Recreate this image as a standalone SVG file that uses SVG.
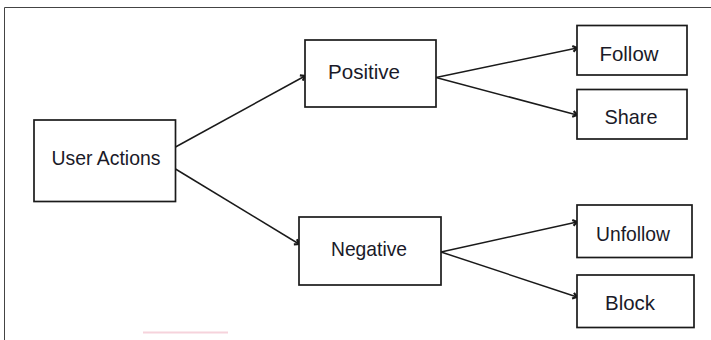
<svg xmlns="http://www.w3.org/2000/svg" width="711" height="340" viewBox="0 0 711 340">
<style>
.box{fill:#fff;stroke:#1a1a1a;stroke-width:1.7}
.lbl{font-family:"Liberation Sans",Arial,sans-serif;font-size:21px;fill:#1a1a28;text-anchor:middle}
.edge{stroke:#1a1a1a;stroke-width:1.5;fill:none;marker-end:url(#arr)}
</style>
<defs>
<marker id="arr" viewBox="0 0 10 10" refX="9" refY="5" markerWidth="6" markerHeight="6" markerUnits="userSpaceOnUse" orient="auto" overflow="visible">
<path d="M2,0 L9,5 L2,10" fill="none" stroke="#1a1a1a" stroke-width="3.6"/>
</marker>
</defs>
<rect width="711" height="340" fill="#fff"/>
<path d="M4.5,340 L4.5,7.5 L711,7.5" fill="none" stroke="#444" stroke-width="1"/>
<line x1="143" y1="332.5" x2="228" y2="332.5" stroke="#f6d3dc" stroke-width="2"/>
<g id="connectors">
<line class="edge" x1="175.5" y1="147" x2="305" y2="76"/>
<line class="edge" x1="175.5" y1="169" x2="299" y2="244"/>
<line class="edge" x1="436" y1="77.5" x2="577" y2="48"/>
<line class="edge" x1="436" y1="77.5" x2="577" y2="115"/>
<line class="edge" x1="441" y1="252" x2="577" y2="222"/>
<line class="edge" x1="441" y1="252" x2="577" y2="297"/>
</g>
<g id="user-actions"><rect class="box" x="34" y="120" width="141.5" height="81.5"/><text class="lbl" x="106" y="165" textLength="109" lengthAdjust="spacingAndGlyphs">User Actions</text></g>
<g id="positive"><rect class="box" x="305" y="40" width="131" height="67"/><text class="lbl" x="364" y="79" textLength="72" lengthAdjust="spacingAndGlyphs">Positive</text></g>
<g id="negative"><rect class="box" x="299" y="217" width="142" height="68"/><text class="lbl" x="369" y="256" textLength="76" lengthAdjust="spacingAndGlyphs">Negative</text></g>
<g id="follow"><rect class="box" x="577" y="25.5" width="110" height="49.5"/><text class="lbl" x="629" y="61" textLength="59" lengthAdjust="spacingAndGlyphs">Follow</text></g>
<g id="share"><rect class="box" x="577" y="89.5" width="110" height="49.5"/><text class="lbl" x="631" y="124" textLength="53" lengthAdjust="spacingAndGlyphs">Share</text></g>
<g id="unfollow"><rect class="box" x="577" y="205" width="115" height="52.5"/><text class="lbl" x="633" y="241" textLength="74" lengthAdjust="spacingAndGlyphs">Unfollow</text></g>
<g id="block"><rect class="box" x="577" y="275" width="117" height="52.5"/><text class="lbl" x="630" y="310" textLength="50" lengthAdjust="spacingAndGlyphs">Block</text></g>
</svg>
